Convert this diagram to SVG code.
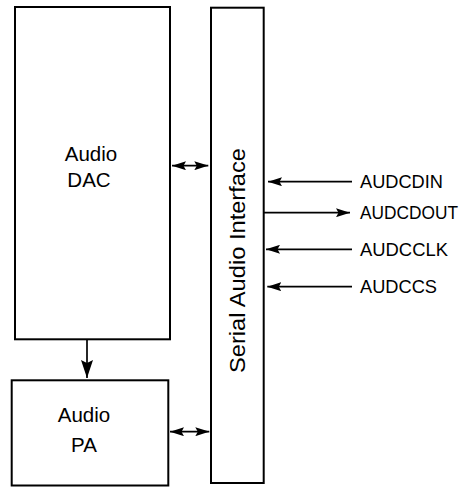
<svg xmlns="http://www.w3.org/2000/svg" width="467" height="487" viewBox="0 0 467 487">
<style>
.box{fill:#fff;stroke:#000;stroke-width:2}
.ln{stroke:#000;stroke-width:1.7;fill:none}
.lbl{font-family:"Liberation Sans",Arial,sans-serif;font-size:20.5px;fill:#000;text-anchor:middle}
.sig{font-family:"Liberation Sans",Arial,sans-serif;font-size:17.5px;fill:#000}
.vt{font-family:"Liberation Sans",Arial,sans-serif;font-size:22px;fill:#000;text-anchor:middle}
</style>
<defs>
<marker id="ah" viewBox="0 0 14 9" refX="14" refY="4.5" markerWidth="14" markerHeight="9" markerUnits="userSpaceOnUse" orient="auto-start-reverse">
<path d="M0,0 L14,4.5 L0,9 L2.5,4.5 Z" fill="#000"/>
</marker>
<marker id="ahd" viewBox="0 0 18 12" refX="18" refY="6" markerWidth="18" markerHeight="12" markerUnits="userSpaceOnUse" orient="auto">
<path d="M0,0 L18,6 L0,12 L3,6 Z" fill="#000"/>
</marker>
</defs>
<g id="dac">
<rect class="box" x="15" y="7" width="155" height="332.3"/>
<text class="lbl" x="91" y="161">Audio</text>
<text class="lbl" x="89" y="187">DAC</text>
</g>
<g id="pa">
<rect class="box" x="11.7" y="380.3" width="156.6" height="105.2"/>
<text class="lbl" x="84" y="421.5">Audio</text>
<text class="lbl" x="84" y="451.5">PA</text>
</g>
<g id="serial">
<rect class="box" x="211" y="7.7" width="52.7" height="475.3"/>
<text class="vt" transform="translate(244.5,260.5) rotate(-90)" textLength="225" lengthAdjust="spacingAndGlyphs">Serial Audio Interface</text>
</g>
<g id="connectors">
<line class="ln" x1="172" y1="165.7" x2="208.3" y2="165.7" marker-start="url(#ah)" marker-end="url(#ah)"/>
<line class="ln" x1="170" y1="431.7" x2="209.3" y2="431.7" marker-start="url(#ah)" marker-end="url(#ah)"/>
<line class="ln" x1="87" y1="340" x2="87" y2="378" marker-end="url(#ahd)"/>
<line class="ln" x1="352" y1="181.7" x2="268" y2="181.7" marker-end="url(#ah)"/>
<line class="ln" x1="264" y1="212.7" x2="350" y2="212.7" marker-end="url(#ah)"/>
<line class="ln" x1="352" y1="249.3" x2="266" y2="249.3" marker-end="url(#ah)"/>
<line class="ln" x1="352" y1="286.7" x2="267.3" y2="286.7" marker-end="url(#ah)"/>
</g>
<g id="signals">
<text class="sig" x="360" y="188" textLength="83" lengthAdjust="spacingAndGlyphs">AUDCDIN</text>
<text class="sig" x="360" y="219" textLength="98" lengthAdjust="spacingAndGlyphs">AUDCDOUT</text>
<text class="sig" x="360" y="255.7" textLength="88" lengthAdjust="spacingAndGlyphs">AUDCCLK</text>
<text class="sig" x="360" y="293" textLength="77" lengthAdjust="spacingAndGlyphs">AUDCCS</text>
</g>
</svg>
